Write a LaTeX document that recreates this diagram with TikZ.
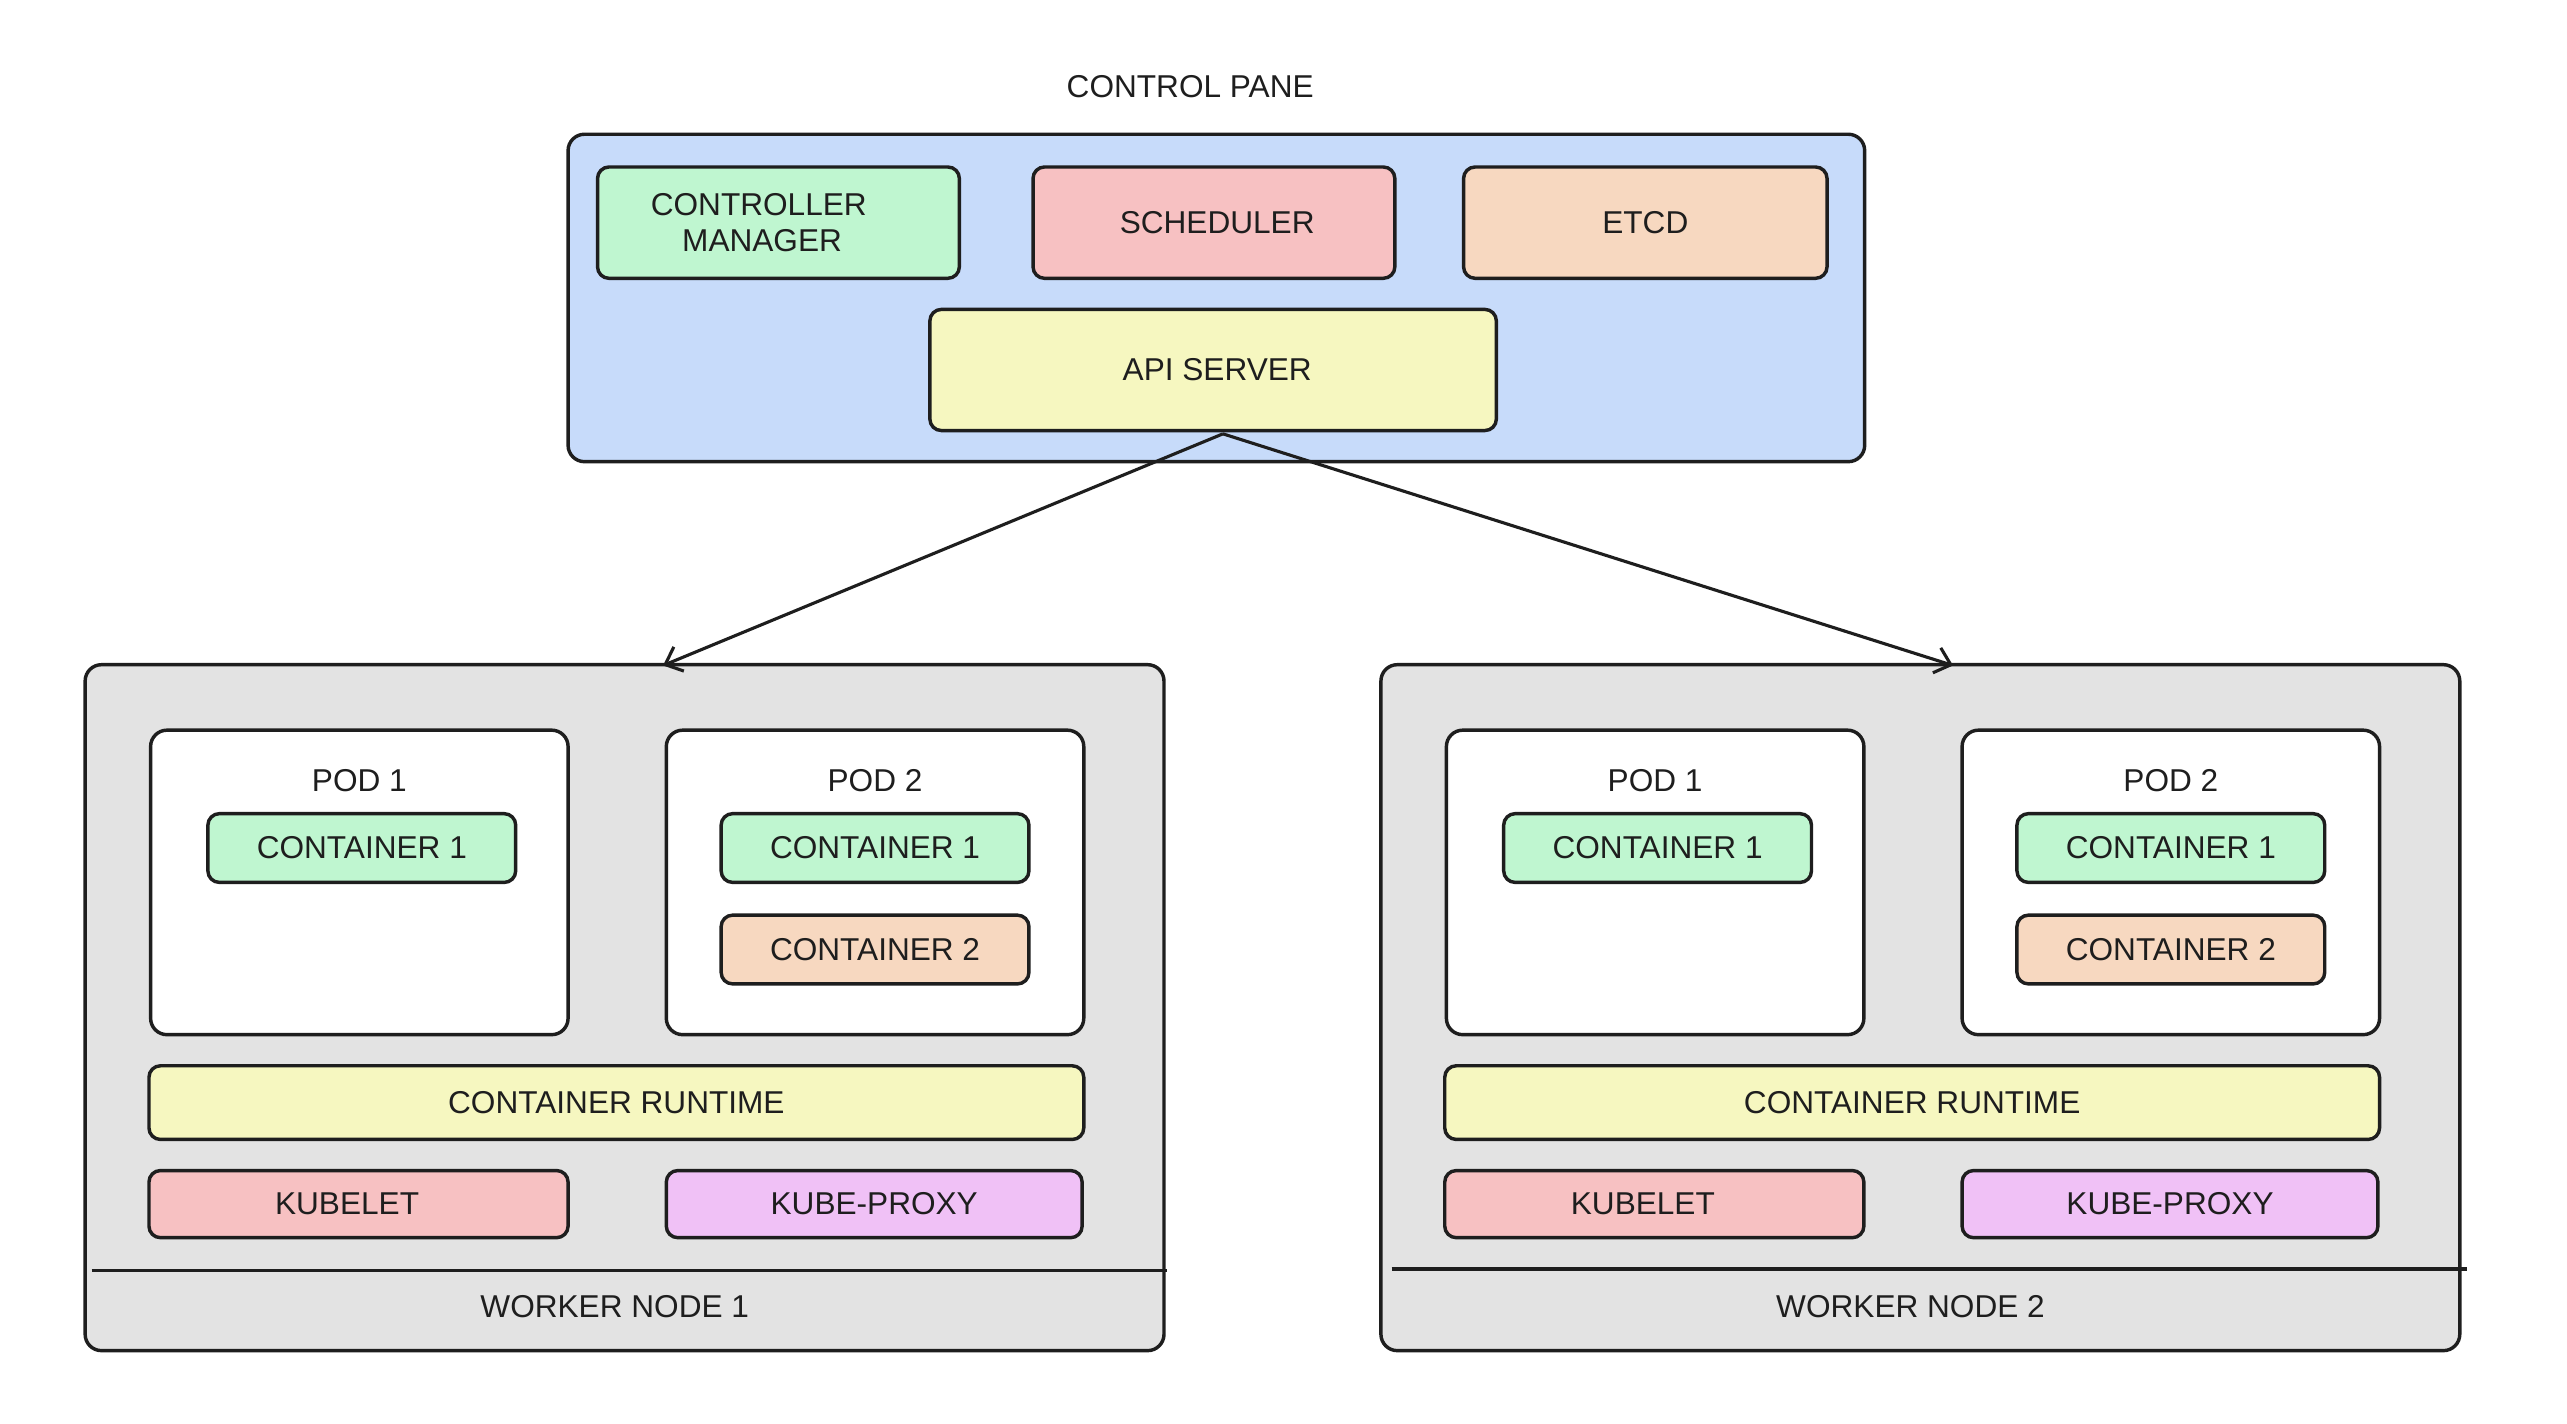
\documentclass[tikz,border=0pt]{standalone}
\usepackage{fontspec}
\setmainfont{Liberation Sans}
\usetikzlibrary{arrows.meta}
\definecolor{cpblue}{RGB}{199,219,250}
\definecolor{gr}{RGB}{191,246,208}
\definecolor{pk}{RGB}{247,193,194}
\definecolor{pe}{RGB}{247,216,192}
\definecolor{ye}{RGB}{246,247,192}
\definecolor{mg}{RGB}{240,193,246}
\definecolor{gy}{RGB}{227,227,227}
\definecolor{ink}{RGB}{30,30,30}
\begin{document}
\begin{tikzpicture}[x=1pt,y=-1pt,
  box/.style={draw=ink, line width=2.1pt, rounded corners=7pt, inner sep=0pt,
    font=\fontsize{19.3}{22}\selectfont, text=ink, align=center},
  bigbox/.style={box, rounded corners=10pt},
  lbl/.style={text=ink, font=\fontsize{19.3}{22}\selectfont, inner sep=0pt},
  arr/.style={draw=ink, line width=1.9pt, -{Straight Barb[length=9pt,width=16pt,line width=1.9pt]}},
  sep/.style={draw=ink, line width=2.1pt}]
\useasboundingbox (0,0) rectangle (1568,869.8);
\node[lbl] (title) at (727,53) {CONTROL PANE};
\node[bigbox, fill=cpblue, minimum width=792pt, minimum height=200pt] (cp) at (743,182) {};
\node[box, fill=gr, minimum width=221pt, minimum height=68pt] (cm) at (475.5,136) {CONTROLLER\hspace*{24pt}\\MANAGER\hspace*{20pt}};
\node[box, fill=pk, minimum width=221pt, minimum height=68pt] (sch) at (741.5,136) {\hspace*{4pt}SCHEDULER};
\node[box, fill=pe, minimum width=222pt, minimum height=68pt] (etcd) at (1005,136) {ETCD};
\node[box, fill=ye, minimum width=346pt, minimum height=74pt] (api) at (741,226) {\hspace*{5pt}API SERVER};
\foreach \i/\dx in {1/0,2/791.5}{
  \node[bigbox, fill=gy, minimum width=659pt, minimum height=419pt] (w\i) at (381.5+\dx,615.5) {};
  \node[bigbox, fill=white, minimum width=255pt, minimum height=186pt] (p\i a) at (219.5+\dx,539) {};
  \node[bigbox, fill=white, minimum width=255pt, minimum height=186pt] (p\i b) at (534.5+\dx,539) {};
  \node[lbl] (pl\i a) at (219.5+\dx,477) {POD 1};
  \node[lbl] (pl\i b) at (534.5+\dx,477) {POD 2};
  \node[box, fill=gr, minimum width=188pt, minimum height=42pt] (c\i a) at (221+\dx,518) {CONTAINER 1};
  \node[box, fill=gr, minimum width=188pt, minimum height=42pt] (c\i b) at (534.5+\dx,518) {CONTAINER 1};
  \node[box, fill=pe, minimum width=188pt, minimum height=42pt] (c\i c) at (534.5+\dx,580) {CONTAINER 2};
  \node[box, fill=ye, minimum width=571pt, minimum height=45pt] (rt\i) at (376.5+\dx,673.5) {CONTAINER RUNTIME};
  \node[box, fill=pk, minimum width=256pt, minimum height=41pt] (kl\i) at (219+\dx,735.5) {KUBELET\hspace*{14pt}};
  \node[box, fill=mg, minimum width=254pt, minimum height=41pt] (kp\i) at (534+\dx,735.5) {KUBE-PROXY};
  \node[lbl] (wl\i) at (375.5+\dx,798) {WORKER NODE \i};
}
\coordinate (d1a) at (56,776);
\coordinate (d1b) at (713,776);
\coordinate (d2a) at (850,775);
\coordinate (d2b) at (1507,775);
\draw[sep] (d1a) -- (d1b);
\draw[sep] (d2a) -- (d2b);
\coordinate (src) at (747,265);
\coordinate (e1) at (405,406.5);
\coordinate (e2) at (1193,406.5);
\draw[arr] (src) -- (e1);
\draw[arr] (src) -- (e2);
\end{tikzpicture}
\end{document}
